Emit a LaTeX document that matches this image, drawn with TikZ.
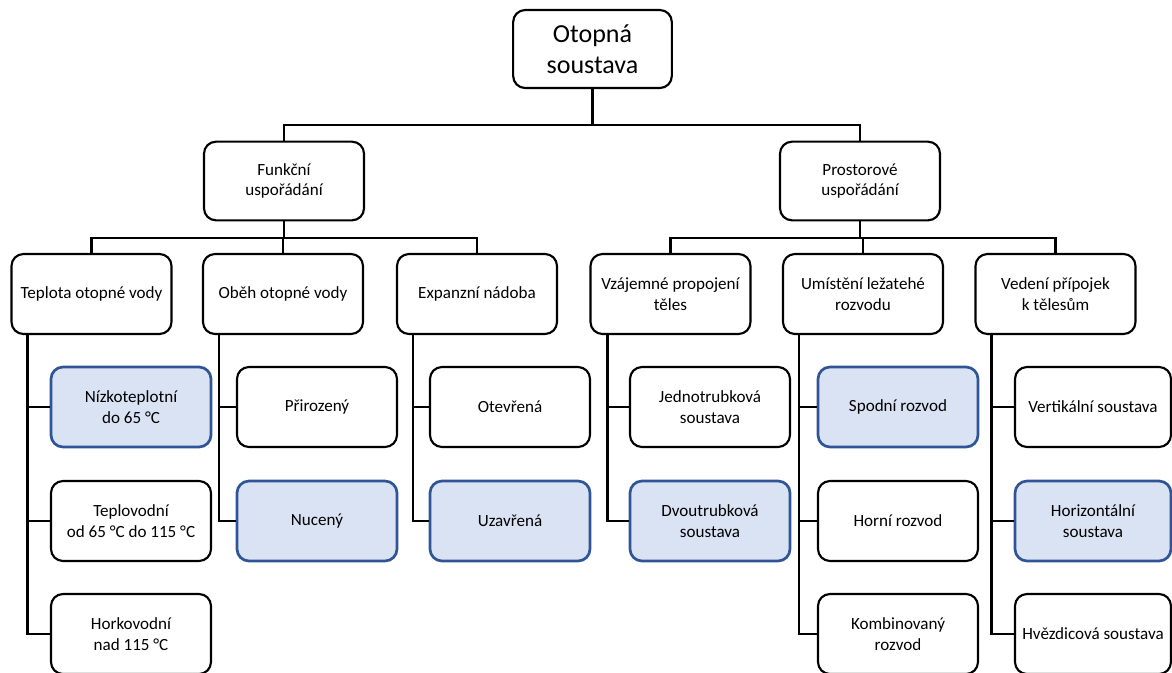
\documentclass[tikz,border=0pt]{standalone}
\usepackage{fontspec}
\setmainfont{Carlito}
\definecolor{hlfill}{HTML}{DAE3F3}
\definecolor{hldraw}{HTML}{2F5597}
\begin{document}
\begin{tikzpicture}[x=0.75pt,y=-0.75pt,
  box/.style={draw=black,line width=1.6pt,rounded corners=9pt,fill=white,align=center,inner sep=2pt,font=\fontsize{12.8pt}{15.5pt}\selectfont},
  hl/.style={box,draw=hldraw,fill=hlfill,line width=2pt},
  wire/.style={line width=1.6pt,black},
  lvl3/.style={minimum width=120pt,minimum height=60pt},
  lvl2/.style={minimum width=120pt,minimum height=60pt},
  lvl1/.style={minimum width=120pt,minimum height=59pt}]
\useasboundingbox (0,0) rectangle (1172,672);
% root
\node[box,minimum width=119pt,minimum height=58.5pt,font=\fontsize{19.5pt}{23pt}\selectfont] (root) at (592.5,49) {Otopná\\soustava};
% level 1
\node[box,lvl1] (fun) at (284,181) {Funkční\\uspořádání};
\node[box,lvl1] (pro) at (860,181) {Prostorové\\uspořádání};
% level 2
\node[box,lvl2] (tep) at (91.5,294) {Teplota otopné vody};
\node[box,lvl2] (obe) at (283,294) {Oběh otopné vody};
\node[box,lvl2] (exp) at (477,294) {Expanzní nádoba};
\node[box,lvl2] (vza) at (670.5,294) {Vzájemné propojení\\těles};
\node[box,lvl2] (umi) at (863,294) {Umístění ležatehé\\rozvodu};
\node[box,lvl2] (ved) at (1055.5,294) {Vedení přípojek\\k tělesům};
% level 3
\node[hl,lvl3] (t1) at (131,407) {Nízkoteplotní\\do 65 °C};
\node[box,lvl3] (t2) at (131,521) {Teplovodní\\od 65 °C do 115 °C};
\node[box,lvl3] (t3) at (131,634) {Horkovodní\\nad 115 °C};
\node[box,lvl3] (o1) at (317,407) {Přirozený};
\node[hl,lvl3] (o2) at (317,521) {Nucený};
\node[box,lvl3] (e1) at (510,407) {Otevřená};
\node[hl,lvl3] (e2) at (510,521) {Uzavřená};
\node[box,lvl3] (v1) at (710,407) {Jednotrubková\\soustava};
\node[hl,lvl3] (v2) at (710,521) {Dvoutrubková\\soustava};
\node[hl,lvl3] (u1) at (898,407) {Spodní rozvod};
\node[box,lvl3] (u2) at (898,521) {Horní rozvod};
\node[box,lvl3] (u3) at (898,634) {Kombinovaný\\rozvod};
\node[box,lvl3,minimum width=117pt] (d1) at (1093,407) {Vertikální soustava};
\node[hl,lvl3,minimum width=117pt] (d2) at (1093,521) {Horizontální\\soustava};
\node[box,lvl3,minimum width=117pt] (d3) at (1093,634) {Hvězdicová soustava};
% connectors level 0-1
\coordinate (j0) at (592.5,125);
\draw[wire] (root.south) -- (j0);
\draw[wire] (fun.north) |- (j0) -| (pro.north);
% level 1-2
\coordinate (j1) at (284,238);
\coordinate (j2) at (860,238);
\draw[wire] (fun.south) -- (j1);
\draw[wire] (tep.north) |- (j1) -| (exp.north);
\draw[wire] (obe.north) -- (obe.north |- j1);
\draw[wire] (pro.south) -- (j2);
\draw[wire] (vza.north) |- (j2) -| (ved.north);
\draw[wire] (umi.north) -- (umi.north |- j2);
% level 2-3
\draw[wire] ([xshift=12.75pt]tep.south west) |- (t3.west);
\draw[wire] ([xshift=12.75pt]tep.south west |- t1.west) -- (t1.west);
\draw[wire] ([xshift=12.75pt]tep.south west |- t2.west) -- (t2.west);
\draw[wire] ([xshift=12.75pt]obe.south west) |- (o2.west);
\draw[wire] ([xshift=12.75pt]obe.south west |- o1.west) -- (o1.west);
\draw[wire] ([xshift=12.75pt]exp.south west) |- (e2.west);
\draw[wire] ([xshift=12.75pt]exp.south west |- e1.west) -- (e1.west);
\draw[wire] ([xshift=13.5pt]vza.south west) |- (v2.west);
\draw[wire] ([xshift=13.5pt]vza.south west |- v1.west) -- (v1.west);
\draw[wire] ([xshift=12.75pt]umi.south west) |- (u3.west);
\draw[wire] ([xshift=12.75pt]umi.south west |- u1.west) -- (u1.west);
\draw[wire] ([xshift=12.75pt]umi.south west |- u2.west) -- (u2.west);
\draw[wire] ([xshift=12.75pt]ved.south west) |- (d3.west);
\draw[wire] ([xshift=12.75pt]ved.south west |- d1.west) -- (d1.west);
\draw[wire] ([xshift=12.75pt]ved.south west |- d2.west) -- (d2.west);
\end{tikzpicture}
\end{document}
